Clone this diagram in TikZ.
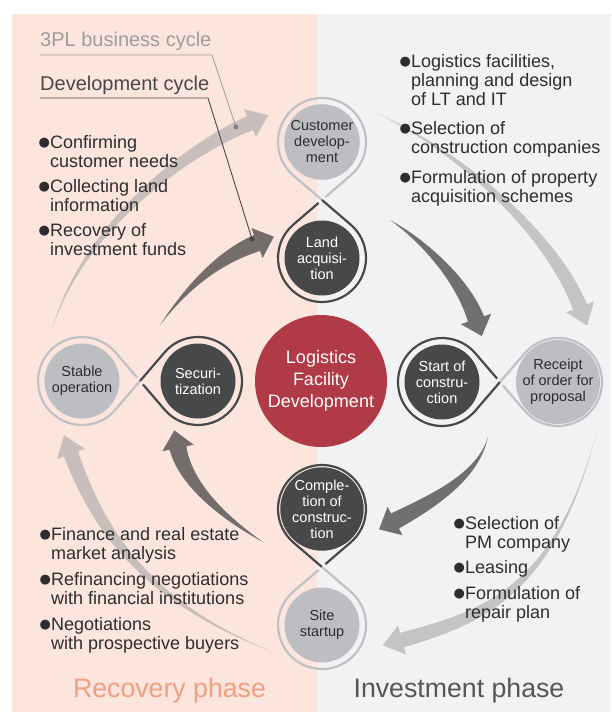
\documentclass[tikz,border=0pt]{standalone}
\usepackage{fontspec}
\setmainfont{Liberation Sans}
\newfontfamily\symfont{DejaVu Sans}
\usetikzlibrary{calc}

\definecolor{pinkbg}{HTML}{FCE5DC}
\definecolor{graybg}{HTML}{F1F2F4}
\definecolor{darkc}{HTML}{47484A}
\definecolor{lightc}{HTML}{BDBEC1}
\definecolor{lightloopc}{HTML}{BFC1C4}
\definecolor{redc}{HTML}{B03A46}
\definecolor{txt}{HTML}{2D2D2F}
\definecolor{salmon}{HTML}{EF9F82}
\definecolor{phasegray}{HTML}{565658}
\definecolor{tplgray}{HTML}{9C9DA0}
\definecolor{outerarr}{HTML}{9EA0A2}
\definecolor{innerarr}{HTML}{3F3F41}

\newcommand\blt{\makebox[11.5pt][l]{\raisebox{2pt}{\symfont\fontsize{13}{13}\selectfont ●}}}
\newcommand\ind{\hspace*{11.5pt}}

% tapered arrow: P0 tail, P1, P2 controls, P3 head base, h half width, H head half width, L head length, style
\newcommand\taper[8]{%
  \fill[#8] #1 .. controls ($#2!{0.3*#5}!-90:#3$) and ($#3!{0.8*#5}!-90:#4$) .. ($#4!#5!90:#3$)
   -- ($#4!#6!90:#3$) -- ($#4!#7!180:#3$) -- ($#4!#6!-90:#3$) -- ($#4!#5!-90:#3$)
   .. controls ($#3!{0.8*#5}!90:#4$) and ($#2!{0.3*#5}!90:#3$) .. #1 -- cycle;}

% teardrop loop: center, crossing, direction angle, style
\newcommand\infloop[4]{%
  \path ($(#1)+(#3-40.66:44)$) coordinate (tmpT);
  \draw[#4] (#2) -- ($(#1)+(#3+40.66:44)$) arc[start angle=#3+40.66, end angle=#3-40.66+360, radius=44]
     -- ($(#2)!4.5pt!(tmpT)$);}

\begin{document}
\begin{tikzpicture}[x=1pt,y=-1pt,
  circ/.style={circle, inner sep=0pt, minimum size=75pt, align=center, font=\fontsize{14.5}{16}\selectfont},
  darknode/.style={circ, fill=darkc, text=white},
  lightnode/.style={circ, fill=lightc, text=txt},
  darkloop/.style={draw=darkc, line width=2.2pt},
  lightloop/.style={draw=lightloopc, line width=2.2pt},
  outerarrow/.style={fill=outerarr, fill opacity=0.55},
  innerarrow/.style={fill=innerarr, fill opacity=0.72},
  bullets/.style={anchor=base west, inner sep=0pt, text=txt, font=\fontsize{18}{19}\selectfont},
  cyclelabel/.style={anchor=base west, inner sep=0pt, font=\fontsize{20}{24}\selectfont},
  phaselabel/.style={anchor=base, inner sep=0pt, font=\fontsize{26.7}{30}\selectfont}
]
\useasboundingbox (0,0) rectangle (611,712);
\fill[white] (0,0) rectangle (611,712);
\fill[pinkbg] (12,14) rectangle (317,712);
\fill[graybg] (317,14) rectangle (611,712);

% arrows: outer (3PL business cycle)
\taper{(52,330)}{(79,236)}{(175,155)}{(250,123)}{7.5pt}{15pt}{20pt}{outerarrow}
\taper{(377,113)}{(473,159)}{(555,242)}{(580,307)}{7.5pt}{15pt}{20pt}{outerarrow}
\taper{(596,435)}{(555,586)}{(490,616)}{(402,640)}{7.5pt}{15pt}{20pt}{outerarrow}
\taper{(273,652)}{(146,602)}{(99,531)}{(71,454)}{7.5pt}{15pt}{20pt}{outerarrow}
% arrows: inner (development cycle)
\taper{(160,325)}{(192,280)}{(225,255)}{(257,243)}{8.5pt}{16pt}{18pt}{innerarrow}
\taper{(390,220)}{(424,241)}{(463,281)}{(476,319)}{8.5pt}{16pt}{18pt}{innerarrow}
\taper{(488,437)}{(478,476)}{(435,500)}{(395,521)}{8.5pt}{16pt}{18pt}{innerarrow}
\taper{(263,542)}{(229,521)}{(186,487)}{(178,448)}{8.5pt}{16pt}{18pt}{innerarrow}

% crossing points
\coordinate (xt) at (322,200);
\coordinate (xb) at (322,567);
\coordinate (xl) at (140,381);
\coordinate (xr) at (500,382);

% circles
\node[lightnode] (cd) at (322,142) {Customer\\develop-\\ment};
\node[darknode] (la) at (322,258) {Land\\acquisi-\\tion};
\node[darknode] (cc) at (322,509) {Comple-\\tion of\\construc-\\tion};
\node[lightnode] (ss) at (322,625) {Site\\startup};
\node[lightnode] (so) at (82,381) {Stable\\operation};
\node[darknode] (se) at (198,381) {Securi-\\tization};
\node[darknode] (sc) at (442,382) {Start of\\constru-\\ction};
\node[lightnode] (ro) at (558,382) {Receipt\\of order for\\proposal};
\node[circle, fill=redc, minimum size=132pt, inner sep=0pt, text=white, align=center,
      font=\fontsize{18}{22}\selectfont] (core) at (321,381) {Logistics\\Facility\\Development};

% loops
\infloop{cd}{xt}{90}{lightloop}
\infloop{la}{xt}{270}{darkloop}
\infloop{cc}{xb}{90}{darkloop}
\infloop{ss}{xb}{270}{lightloop}
\infloop{so}{xl}{0}{lightloop}
\infloop{se}{xl}{180}{darkloop}
\infloop{sc}{xr}{0}{darkloop}
\infloop{ro}{xr}{180}{lightloop}

% cycle labels with leaders
\node[cyclelabel, text=tplgray] (tpl) at (40,46) {3PL business cycle};
\node[cyclelabel, text=darkc] (dev) at (40,90) {Development cycle};
\coordinate (tplA) at (40,55);
\coordinate (tplB) at (212,55);
\coordinate (tplEnd) at (236,127);
\coordinate (devA) at (40,98);
\coordinate (devB) at (208,98);
\coordinate (devEnd) at (252,239);
\draw[tplgray, line width=0.9pt] (tplA) -- (tplB) -- (tplEnd);
\fill[tplgray!80!black] (tplEnd) circle[radius=2.4];
\draw[darkc, line width=0.9pt] (devA) -- (devB) -- (devEnd);
\fill[darkc] (devEnd) circle[radius=2.4];

% bullet lists
\node[bullets] (ltlist) at (38.5,148) {\begin{tabular}[t]{@{}l@{}}
\blt Confirming\\ \ind customer needs\\[6pt]
\blt Collecting land\\ \ind information\\[6pt]
\blt Recovery of\\ \ind investment funds
\end{tabular}};
\node[bullets] (rtlist) at (399.5,67) {\begin{tabular}[t]{@{}l@{}}
\blt Logistics facilities,\\ \ind planning and design\\ \ind of LT and IT\\[10.5pt]
\blt Selection of\\ \ind construction companies\\[10.5pt]
\blt Formulation of property\\ \ind acquisition schemes
\end{tabular}};
\node[bullets] (lblist) at (39.5,540) {\begin{tabular}[t]{@{}l@{}}
\blt Finance and real estate\\ \ind market analysis\\[7pt]
\blt Refinancing negotiations\\ \ind with financial institutions\\[7pt]
\blt Negotiations\\ \ind with prospective buyers
\end{tabular}};
\node[bullets] (rblist) at (453.5,529) {\begin{tabular}[t]{@{}l@{}}
\blt Selection of\\ \ind PM company\\[6.5pt]
\blt Leasing\\[6.5pt]
\blt Formulation of\\ \ind repair plan
\end{tabular}};

% phase labels
\node[phaselabel, text=salmon] (rec) at (169.5,697) {Recovery phase};
\node[phaselabel, text=phasegray] (inv) at (459,697) {Investment phase};
\end{tikzpicture}
\end{document}
